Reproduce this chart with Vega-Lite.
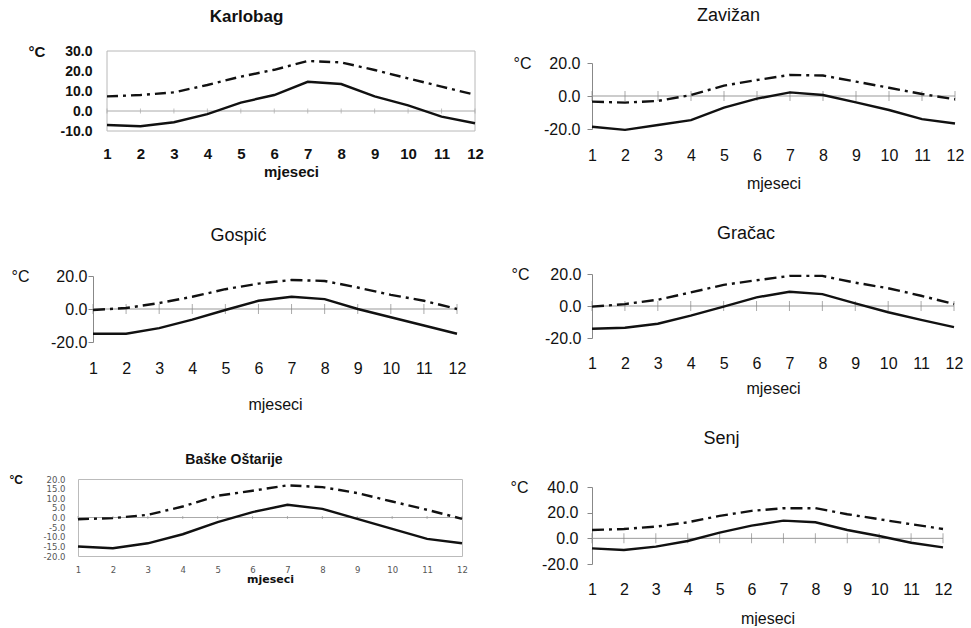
{
"$schema": "https://vega.github.io/schema/vega-lite/v6.json",
"background": "white",
"padding": {"left": 8, "top": 7, "right": 0, "bottom": 0},
"config": {"font": "Liberation Sans", "view": {"stroke": null}, "axis": {"grid": false, "labelColor": "#111111", "titleColor": "#111111", "labelOverlap": false, "tickCount": 50}, "title": {"color": "#111111", "font": "Liberation Sans"}},
"datasets": {"clim": [
{"s":"Karlobag","m":1,"mn":-7,"mx":7.3},{"s":"Karlobag","m":2,"mn":-7.6,"mx":8},{"s":"Karlobag","m":3,"mn":-5.6,"mx":9.3},{"s":"Karlobag","m":4,"mn":-1.6,"mx":13},{"s":"Karlobag","m":5,"mn":4.2,"mx":17.2},{"s":"Karlobag","m":6,"mn":8,"mx":20.6},{"s":"Karlobag","m":7,"mn":14.6,"mx":25},{"s":"Karlobag","m":8,"mn":13.5,"mx":24.3},{"s":"Karlobag","m":9,"mn":7.3,"mx":20.5},{"s":"Karlobag","m":10,"mn":2.8,"mx":16.3},{"s":"Karlobag","m":11,"mn":-2.8,"mx":12.2},{"s":"Karlobag","m":12,"mn":-6.1,"mx":8.1},
{"s":"Zavižan","m":1,"mn":-18.6,"mx":-3.4},{"s":"Zavižan","m":2,"mn":-20.5,"mx":-4},{"s":"Zavižan","m":3,"mn":-17.6,"mx":-3},{"s":"Zavižan","m":4,"mn":-14.6,"mx":0.6},{"s":"Zavižan","m":5,"mn":-7.1,"mx":6.3},{"s":"Zavižan","m":6,"mn":-1.6,"mx":9.7},{"s":"Zavižan","m":7,"mn":2.2,"mx":12.8},{"s":"Zavižan","m":8,"mn":0.6,"mx":12.4},{"s":"Zavižan","m":9,"mn":-3.9,"mx":8.7},{"s":"Zavižan","m":10,"mn":-8.5,"mx":5},{"s":"Zavižan","m":11,"mn":-14,"mx":1.2},{"s":"Zavižan","m":12,"mn":-16.7,"mx":-2},
{"s":"Gospić","m":1,"mn":-15,"mx":-0.6},{"s":"Gospić","m":2,"mn":-15,"mx":0.6},{"s":"Gospić","m":3,"mn":-11.6,"mx":3.6},{"s":"Gospić","m":4,"mn":-6.4,"mx":7.4},{"s":"Gospić","m":5,"mn":-0.6,"mx":12},{"s":"Gospić","m":6,"mn":5,"mx":15.4},{"s":"Gospić","m":7,"mn":7.4,"mx":17.6},{"s":"Gospić","m":8,"mn":6,"mx":17},{"s":"Gospić","m":9,"mn":0,"mx":13},{"s":"Gospić","m":10,"mn":-5,"mx":8.6},{"s":"Gospić","m":11,"mn":-10,"mx":5},{"s":"Gospić","m":12,"mn":-15,"mx":0},
{"s":"Gračac","m":1,"mn":-14.2,"mx":-0.4},{"s":"Gračac","m":2,"mn":-13.6,"mx":1.2},{"s":"Gračac","m":3,"mn":-11.1,"mx":3.9},{"s":"Gračac","m":4,"mn":-6,"mx":8.5},{"s":"Gračac","m":5,"mn":-0.4,"mx":13.2},{"s":"Gračac","m":6,"mn":5.4,"mx":16.1},{"s":"Gračac","m":7,"mn":8.9,"mx":18.8},{"s":"Gračac","m":8,"mn":7.4,"mx":18.8},{"s":"Gračac","m":9,"mn":1.6,"mx":14.6},{"s":"Gračac","m":10,"mn":-3.9,"mx":11.1},{"s":"Gračac","m":11,"mn":-8.7,"mx":6.4},{"s":"Gračac","m":12,"mn":-13.2,"mx":1.2},
{"s":"Baške Oštarije","m":1,"mn":-15.1,"mx":-0.9},{"s":"Baške Oštarije","m":2,"mn":-16,"mx":-0.3},{"s":"Baške Oštarije","m":3,"mn":-13.4,"mx":1.4},{"s":"Baške Oštarije","m":4,"mn":-8.7,"mx":5.7},{"s":"Baške Oštarije","m":5,"mn":-2.4,"mx":11.3},{"s":"Baške Oštarije","m":6,"mn":2.8,"mx":13.9},{"s":"Baške Oštarije","m":7,"mn":6.6,"mx":16.7},{"s":"Baške Oštarije","m":8,"mn":4.5,"mx":15.8},{"s":"Baške Oštarije","m":9,"mn":-0.7,"mx":12.7},{"s":"Baške Oštarije","m":10,"mn":-5.9,"mx":8.3},{"s":"Baške Oštarije","m":11,"mn":-11.1,"mx":4},{"s":"Baške Oštarije","m":12,"mn":-13.4,"mx":-0.7},
{"s":"Senj","m":1,"mn":-7.8,"mx":6.5},{"s":"Senj","m":2,"mn":-9.1,"mx":7.3},{"s":"Senj","m":3,"mn":-6.5,"mx":9.1},{"s":"Senj","m":4,"mn":-2.1,"mx":12.5},{"s":"Senj","m":5,"mn":4.4,"mx":17.5},{"s":"Senj","m":6,"mn":9.9,"mx":21.4},{"s":"Senj","m":7,"mn":13.8,"mx":23.5},{"s":"Senj","m":8,"mn":12.5,"mx":23.5},{"s":"Senj","m":9,"mn":6.5,"mx":18.8},{"s":"Senj","m":10,"mn":1.8,"mx":14.9},{"s":"Senj","m":11,"mn":-3.4,"mx":11},{"s":"Senj","m":12,"mn":-7,"mx":7.3}
]},
"spacing": 26,
"hconcat": [
{"spacing": 0, "bounds": "flush", "vconcat": [
{"width": 397, "height": 80, "data": {"name": "clim"},
 "title": {"text": "Karlobag", "fontSize": 17, "fontWeight": "bold", "frame": "group", "anchor": "middle", "dx": -30, "offset": 18},
 "layer": [
  {"data": {"values": [{}]}, "mark": {"type": "rect", "fill": null, "stroke": "#b8b8b8", "strokeWidth": 1}, "encoding": {"x": {"datum": 1, "type": "quantitative"}, "x2": {"datum": 12}, "y": {"datum": -10, "type": "quantitative"}, "y2": {"datum": 30}}},
  {"data": {"values": [{}]}, "mark": {"type": "rule", "color": "#aaaaaa", "strokeWidth": 1}, "encoding": {"x": {"datum": 1, "type": "quantitative"}, "x2": {"datum": 12}, "y": {"datum": 0, "type": "quantitative"}}},
  {"transform": [{"filter": "datum.s === 'Karlobag'"}], "mark": {"type": "tick", "orient": "vertical", "size": 5, "thickness": 1, "color": "#aaaaaa"}, "encoding": {"x": {"field": "m", "type": "quantitative", "title": "mjeseci"}, "y": {"datum": 0, "type": "quantitative"}}},
  {"transform": [{"filter": "datum.s === 'Karlobag'"}], "mark": {"type": "line", "color": "#111111", "strokeWidth": 2.4, "strokeDash": [11, 5, 3, 5]}, "encoding": {"x": {"field": "m", "type": "quantitative", "title": "mjeseci"}, "y": {"field": "mx", "type": "quantitative", "title": "°C"}}},
  {"transform": [{"filter": "datum.s === 'Karlobag'"}], "mark": {"type": "line", "color": "#111111", "strokeWidth": 2.4}, "encoding": {
    "x": {"field": "m", "type": "quantitative", "title": "mjeseci", "scale": {"domain": [1, 12], "range": [29, 397], "nice": false, "zero": false}, "axis": {"values": [1,2,3,4,5,6,7,8,9,10,11,12], "tickCount": 50, "format": "d", "domain": false, "ticks": false, "labelFlush": false, "labelOverlap": false, "labelFontSize": 15, "labelFontWeight": "bold", "labelPadding": 15, "titleFontSize": 15, "titleFontWeight": "bold", "titlePadding": 3}},
    "y": {"field": "mn", "type": "quantitative", "title": "°C", "scale": {"domain": [-10, 30], "nice": false, "zero": false}, "axis": {"offset": -29, "values": [-10,0,10,20,30], "tickCount": 50, "labelExpr": "(datum.value < 0 ? '-' : '') + format(abs(datum.value), '.1f')", "domain": false, "ticks": false, "labelOverlap": false, "labelFontSize": 14, "labelFontWeight": "bold", "labelPadding": 15, "titleAngle": 0, "titleX": -79, "titleY": 0, "titleAlign": "left", "titleBaseline": "middle", "titleFontSize": 15, "titleFontWeight": "bold"}}
  }}
 ]},
{"width": 1, "height": 145, "data": {"values": []}, "mark": "point"},
{"width": 379, "height": 66, "data": {"name": "clim"},
 "title": {"text": "Gospić", "fontSize": 18, "fontWeight": "normal", "frame": "group", "anchor": "middle", "dx": -29, "offset": 23},
 "layer": [
  {"data": {"values": [{}]}, "mark": {"type": "rule", "color": "#999999", "strokeWidth": 1}, "encoding": {"x": {"datum": 1, "type": "quantitative"}, "x2": {"datum": 12}, "y": {"datum": 0, "type": "quantitative"}}},
  {"transform": [{"filter": "datum.s === 'Gospić'"}], "mark": {"type": "tick", "orient": "vertical", "size": 10, "thickness": 1, "color": "#888888"}, "encoding": {"x": {"field": "m", "type": "quantitative", "title": "mjeseci"}, "y": {"datum": 0, "type": "quantitative"}}},
  {"transform": [{"filter": "datum.s === 'Gospić'"}], "mark": {"type": "line", "color": "#111111", "strokeWidth": 2.4, "strokeDash": [12, 5, 3, 5]}, "encoding": {"x": {"field": "m", "type": "quantitative", "title": "mjeseci"}, "y": {"field": "mx", "type": "quantitative", "title": "°C"}}},
  {"transform": [{"filter": "datum.s === 'Gospić'"}], "mark": {"type": "line", "color": "#111111", "strokeWidth": 2.4}, "encoding": {
    "x": {"field": "m", "type": "quantitative", "title": "mjeseci", "scale": {"domain": [1, 12], "range": [15, 379], "nice": false, "zero": false}, "axis": {"values": [1,2,3,4,5,6,7,8,9,10,11,12], "tickCount": 50, "format": "d", "domain": false, "ticks": false, "labelFlush": false, "labelOverlap": false, "labelFontSize": 16, "labelPadding": 18, "titleFontSize": 16, "titleFontWeight": "normal", "titlePadding": 20}},
    "y": {"field": "mn", "type": "quantitative", "title": "°C", "scale": {"domain": [-20, 20], "nice": false, "zero": false}, "axis": {"offset": -15, "values": [-20,0,20], "tickCount": 50, "labelExpr": "(datum.value < 0 ? '-' : '') + format(abs(datum.value), '.1f')", "domain": true, "domainColor": "#888888", "ticks": true, "tickSize": 5, "tickColor": "#888888", "labelOverlap": false, "labelFontSize": 16, "labelPadding": 1, "titleAngle": 0, "titleX": -82, "titleY": 0, "titleAlign": "left", "titleBaseline": "middle", "titleFontSize": 16, "titleFontWeight": "normal"}}
  }}
 ]},
{"width": 1, "height": 137, "data": {"values": []}, "mark": "point"},
{"width": 384, "height": 77, "view": {"stroke": "#bbbbbb", "strokeWidth": 1}, "data": {"name": "clim"},
 "title": {"text": "Baške Oštarije", "fontSize": 14, "fontWeight": "bold", "frame": "group", "anchor": "middle", "dx": -36, "offset": 6},
 "layer": [
  {"data": {"values": [{}]}, "mark": {"type": "rule", "color": "#aaaaaa", "strokeWidth": 1}, "encoding": {"x": {"datum": 1, "type": "quantitative"}, "x2": {"datum": 12}, "y": {"datum": 0, "type": "quantitative"}}},
  {"transform": [{"filter": "datum.s === 'Baške Oštarije'"}], "mark": {"type": "tick", "orient": "vertical", "size": 3, "thickness": 1, "color": "#999999"}, "encoding": {"x": {"field": "m", "type": "quantitative", "title": "mjeseci"}, "y": {"datum": 0, "type": "quantitative"}}},
  {"transform": [{"filter": "datum.s === 'Baške Oštarije'"}], "mark": {"type": "line", "color": "#111111", "strokeWidth": 2.4, "strokeDash": [11, 5, 3, 5]}, "encoding": {"x": {"field": "m", "type": "quantitative", "title": "mjeseci"}, "y": {"field": "mx", "type": "quantitative", "title": "°C"}}},
  {"transform": [{"filter": "datum.s === 'Baške Oštarije'"}], "mark": {"type": "line", "color": "#111111", "strokeWidth": 2.4}, "encoding": {
    "x": {"field": "m", "type": "quantitative", "title": "mjeseci", "scale": {"domain": [1, 12], "nice": false, "zero": false}, "axis": {"values": [1,2,3,4,5,6,7,8,9,10,11,12], "tickCount": 50, "format": "d", "domain": false, "ticks": false, "labelFlush": false, "labelOverlap": false, "labelFont": "DejaVu Sans", "labelFontSize": 8.5, "labelColor": "#555555", "labelPadding": 9, "titleFont": "DejaVu Sans", "titleFontSize": 11, "titleFontWeight": "bold", "titlePadding": 0}},
    "y": {"field": "mn", "type": "quantitative", "title": "°C", "scale": {"domain": [-20, 20], "nice": false, "zero": false}, "axis": {"values": [-20,-15,-10,-5,0,5,10,15,20], "tickCount": 50, "labelExpr": "(datum.value < 0 ? '-' : '') + format(abs(datum.value), '.1f')", "domain": false, "ticks": false, "labelOverlap": false, "labelFont": "DejaVu Sans", "labelFontSize": 8.5, "labelColor": "#555555", "labelPadding": 13, "titleAngle": 0, "titleX": -69, "titleY": 0, "titleAlign": "left", "titleBaseline": "middle", "titleFontSize": 12, "titleFontWeight": "bold"}}
  }}
 ]}
]},
{"spacing": 0, "bounds": "flush", "vconcat": [
{"width": 1, "height": 12, "data": {"values": []}, "mark": "point"},
{"width": 363, "height": 66, "data": {"name": "clim"},
 "title": {"text": "Zavižan", "fontSize": 18, "fontWeight": "normal", "frame": "group", "anchor": "middle", "dx": -45, "offset": 30},
 "layer": [
  {"data": {"values": [{}]}, "mark": {"type": "rule", "color": "#999999", "strokeWidth": 1}, "encoding": {"x": {"datum": 1, "type": "quantitative"}, "x2": {"datum": 12}, "y": {"datum": 0, "type": "quantitative"}}},
  {"transform": [{"filter": "datum.s === 'Zavižan'"}], "mark": {"type": "tick", "orient": "vertical", "size": 10, "thickness": 1, "color": "#888888"}, "encoding": {"x": {"field": "m", "type": "quantitative", "title": "mjeseci"}, "y": {"datum": 0, "type": "quantitative"}}},
  {"transform": [{"filter": "datum.s === 'Zavižan'"}], "mark": {"type": "line", "color": "#111111", "strokeWidth": 2.4, "strokeDash": [12, 5, 3, 5]}, "encoding": {"x": {"field": "m", "type": "quantitative", "title": "mjeseci"}, "y": {"field": "mx", "type": "quantitative", "title": "°C"}}},
  {"transform": [{"filter": "datum.s === 'Zavižan'"}], "mark": {"type": "line", "color": "#111111", "strokeWidth": 2.4}, "encoding": {
    "x": {"field": "m", "type": "quantitative", "title": "mjeseci", "scale": {"domain": [1, 12], "nice": false, "zero": false}, "axis": {"values": [1,2,3,4,5,6,7,8,9,10,11,12], "tickCount": 50, "format": "d", "domain": false, "ticks": false, "labelFlush": false, "labelOverlap": false, "labelFontSize": 16, "labelPadding": 18, "titleFontSize": 16, "titleFontWeight": "normal", "titlePadding": 12}},
    "y": {"field": "mn", "type": "quantitative", "title": "°C", "scale": {"domain": [-20, 20], "nice": false, "zero": false}, "axis": {"values": [-20,0,20], "tickCount": 50, "labelExpr": "(datum.value < 0 ? '-' : '') + format(abs(datum.value), '.1f')", "domain": true, "domainColor": "#888888", "ticks": true, "tickSize": 5, "tickColor": "#888888", "labelOverlap": false, "labelFontSize": 16, "labelPadding": 7, "titleAngle": 0, "titleX": -79, "titleY": 0, "titleAlign": "left", "titleBaseline": "middle", "titleFontSize": 16, "titleFontWeight": "normal"}}
  }}
 ]},
{"width": 1, "height": 145, "data": {"values": []}, "mark": "point"},
{"width": 362, "height": 64, "data": {"name": "clim"},
 "title": {"text": "Gračac", "fontSize": 18, "fontWeight": "normal", "frame": "group", "anchor": "middle", "dx": -27, "offset": 23},
 "layer": [
  {"data": {"values": [{}]}, "mark": {"type": "rule", "color": "#999999", "strokeWidth": 1}, "encoding": {"x": {"datum": 1, "type": "quantitative"}, "x2": {"datum": 12}, "y": {"datum": 0, "type": "quantitative"}}},
  {"transform": [{"filter": "datum.s === 'Gračac'"}], "mark": {"type": "tick", "orient": "vertical", "size": 10, "thickness": 1, "color": "#888888"}, "encoding": {"x": {"field": "m", "type": "quantitative", "title": "mjeseci"}, "y": {"datum": 0, "type": "quantitative"}}},
  {"transform": [{"filter": "datum.s === 'Gračac'"}], "mark": {"type": "line", "color": "#111111", "strokeWidth": 2.4, "strokeDash": [12, 5, 3, 5]}, "encoding": {"x": {"field": "m", "type": "quantitative", "title": "mjeseci"}, "y": {"field": "mx", "type": "quantitative", "title": "°C"}}},
  {"transform": [{"filter": "datum.s === 'Gračac'"}], "mark": {"type": "line", "color": "#111111", "strokeWidth": 2.4}, "encoding": {
    "x": {"field": "m", "type": "quantitative", "title": "mjeseci", "scale": {"domain": [1, 12], "nice": false, "zero": false}, "axis": {"values": [1,2,3,4,5,6,7,8,9,10,11,12], "tickCount": 50, "format": "d", "domain": false, "ticks": false, "labelFlush": false, "labelOverlap": false, "labelFontSize": 16, "labelPadding": 17, "titleFontSize": 16, "titleFontWeight": "normal", "titlePadding": 9}},
    "y": {"field": "mn", "type": "quantitative", "title": "°C", "scale": {"domain": [-20, 20], "nice": false, "zero": false}, "axis": {"values": [-20,0,20], "tickCount": 50, "labelExpr": "(datum.value < 0 ? '-' : '') + format(abs(datum.value), '.1f')", "domain": true, "domainColor": "#888888", "ticks": true, "tickSize": 5, "tickColor": "#888888", "labelOverlap": false, "labelFontSize": 16, "labelPadding": 6, "titleAngle": 0, "titleX": -81, "titleY": 0, "titleAlign": "left", "titleBaseline": "middle", "titleFontSize": 16, "titleFontWeight": "normal"}}
  }}
 ]},
{"width": 1, "height": 149, "data": {"values": []}, "mark": "point"},
{"width": 351, "height": 77, "data": {"name": "clim"},
 "title": {"text": "Senj", "fontSize": 18, "fontWeight": "normal", "frame": "group", "anchor": "middle", "dx": -46, "offset": 31},
 "layer": [
  {"data": {"values": [{}]}, "mark": {"type": "rule", "color": "#999999", "strokeWidth": 1}, "encoding": {"x": {"datum": 1, "type": "quantitative"}, "x2": {"datum": 12}, "y": {"datum": 0, "type": "quantitative"}}},
  {"transform": [{"filter": "datum.s === 'Senj'"}], "mark": {"type": "tick", "orient": "vertical", "size": 10, "thickness": 1, "color": "#888888"}, "encoding": {"x": {"field": "m", "type": "quantitative", "title": "mjeseci"}, "y": {"datum": 0, "type": "quantitative"}}},
  {"transform": [{"filter": "datum.s === 'Senj'"}], "mark": {"type": "line", "color": "#111111", "strokeWidth": 2.4, "strokeDash": [12, 5, 3, 5]}, "encoding": {"x": {"field": "m", "type": "quantitative", "title": "mjeseci"}, "y": {"field": "mx", "type": "quantitative", "title": "°C"}}},
  {"transform": [{"filter": "datum.s === 'Senj'"}], "mark": {"type": "line", "color": "#111111", "strokeWidth": 2.4}, "encoding": {
    "x": {"field": "m", "type": "quantitative", "title": "mjeseci", "scale": {"domain": [1, 12], "nice": false, "zero": false}, "axis": {"values": [1,2,3,4,5,6,7,8,9,10,11,12], "tickCount": 50, "format": "d", "domain": false, "ticks": false, "labelFlush": false, "labelOverlap": false, "labelFontSize": 16, "labelPadding": 17, "titleFontSize": 16, "titleFontWeight": "normal", "titlePadding": 13}},
    "y": {"field": "mn", "type": "quantitative", "title": "°C", "scale": {"domain": [-20, 40], "nice": false, "zero": false}, "axis": {"values": [-20,0,20,40], "tickCount": 50, "labelExpr": "(datum.value < 0 ? '-' : '') + format(abs(datum.value), '.1f')", "domain": true, "domainColor": "#888888", "ticks": true, "tickSize": 5, "tickColor": "#888888", "labelOverlap": false, "labelFontSize": 16, "labelPadding": 9, "titleAngle": 0, "titleX": -82, "titleY": 0, "titleAlign": "left", "titleBaseline": "middle", "titleFontSize": 16, "titleFontWeight": "normal"}}
  }}
 ]}
]}
]
}
